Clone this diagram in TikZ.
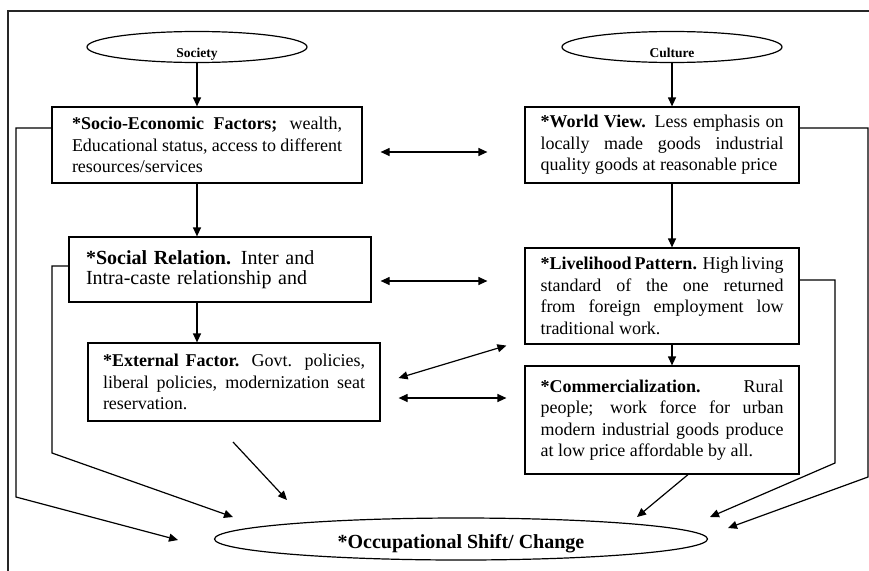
\documentclass[tikz,border=0pt]{standalone}
\usepackage{fontspec}
\setmainfont{Liberation Serif}
\usetikzlibrary{shapes.geometric,arrows.meta}

\begin{document}
\begin{tikzpicture}[x=1pt,y=-1pt]
        \tikzstyle{caixa}=[draw=black, line width=1.2pt, inner sep=0pt, align=justify, font=\fontsize{18}{21.5}\selectfont]
        \tikzstyle{elipse}=[draw=black, ellipse, line width=1.2pt, inner sep=0pt, text depth=0pt, font=\bfseries\fontsize{13.5}{14}\selectfont]
        \tikzstyle{seta}=[line width=1.2pt, -{Triangle[length=9pt,width=8pt]}]
        \tikzstyle{dupla}=[line width=1.2pt, {Triangle[length=9pt,width=8pt]}-{Triangle[length=9pt,width=8pt]}]

        \useasboundingbox (0,0) rectangle (869,570);
        \clip (0,0) rectangle (869,570);

        \draw[line width=2pt, black!85] (8,580) |- (880,11);

        \coordinate (p1) at (178,540);
        \coordinate (p2) at (233,517);
        \coordinate (q3) at (233,442);
        \coordinate (p3) at (287,500);
        \coordinate (p4) at (637,517);
        \coordinate (p5) at (710,517);
        \coordinate (p6) at (728,528);

        \node (society) at (197,47)[elipse, minimum width=220pt, minimum height=31pt, text height=20pt]{Society};
        \node (culture) at (672,47)[elipse, minimum width=220pt, minimum height=31pt, text height=20pt]{Culture};

        \node (socio) at (207,145)[caixa, text width=270pt, minimum width=310pt, minimum height=76pt]{\textbf{*Socio-Economic Factors;} wealth,\linebreak Educational status, access to different\linebreak resources/services};
        \node (world) at (662,145)[caixa, text width=243pt, minimum width=274pt, minimum height=76pt]{\textbf{*World View.} Less emphasis on\linebreak locally made goods industrial\linebreak quality goods at reasonable price};

        \node (social) at (220,269.5)[caixa, align=left, text width=268pt, minimum width=302pt, minimum height=65pt, font=\fontsize{20}{20}\selectfont]{\textbf{*Social Relation.} Inter and\\ Intra-caste relationship and};
        \node (liveli) at (662,296)[caixa, text width=243pt, minimum width=274pt, minimum height=96pt]{\textbf{*Livelihood Pattern.} High living\linebreak standard of the one returned\linebreak from foreign employment low\linebreak traditional work.};

        \node (extern) at (234,382)[caixa, text width=262pt, minimum width=292pt, minimum height=78pt]{\textbf{*External Factor.} Govt. policies,\linebreak liberal policies, modernization seat\linebreak reservation.};
        \node (commerc) at (662,420)[caixa, text width=243pt, minimum width=274pt, minimum height=108pt]{\textbf{*Commercialization.} Rural\linebreak people; work force for urban\linebreak modern industrial goods produce\linebreak at low price affordable by all.};

        \node (shift) at (461,539)[elipse, minimum width=493pt, minimum height=42pt, text height=18pt, font=\bfseries\fontsize{20}{20}\selectfont]{*Occupational Shift/ Change};

        \draw[seta] (society.south) -- (society.south |- socio.north);
        \draw[seta] (culture.south) -- (culture.south |- world.north);
        \draw[seta] (society.south |- socio.south) -- (society.south |- social.north);
        \draw[seta] (culture.south |- world.south) -- (culture.south |- liveli.north);
        \draw[seta] (society.south |- social.south) -- (society.south |- extern.north);
        \draw[seta] (culture.south |- liveli.south) -- (culture.south |- commerc.north);

        \draw[dupla, shorten <=18pt, shorten >=37pt] ([yshift=-7pt]socio.east) -- ([yshift=-7pt]world.west);
        \draw[dupla, shorten <=9pt, shorten >=37pt] ([yshift=-11.5pt]social.east) -- ([yshift=15pt]liveli.west);
        \draw[dupla] ([xshift=18pt,yshift=4pt]extern.east) -- ([xshift=-18pt,yshift=-1pt]liveli.south west);
        \draw[dupla] ([xshift=18pt,yshift=-16pt]extern.east) -- ([xshift=-18pt,yshift=22pt]commerc.west);

        \draw[seta] ([yshift=17pt]socio.west) -| (16,497) -- (p1);
        \draw[seta] ([yshift=3.5pt]social.west) -| (52,453) -- (p2);
        \draw[seta] (q3) -- (p3);
        \draw[seta] ([xshift=26pt]commerc.south) -- (p4);
        \draw[seta] ([yshift=16pt]liveli.east) -| (835,463) -- (p5);
        \draw[seta] ([yshift=17pt]world.east) -| (868,477) -- (p6);
      \end{tikzpicture}
\end{document}
